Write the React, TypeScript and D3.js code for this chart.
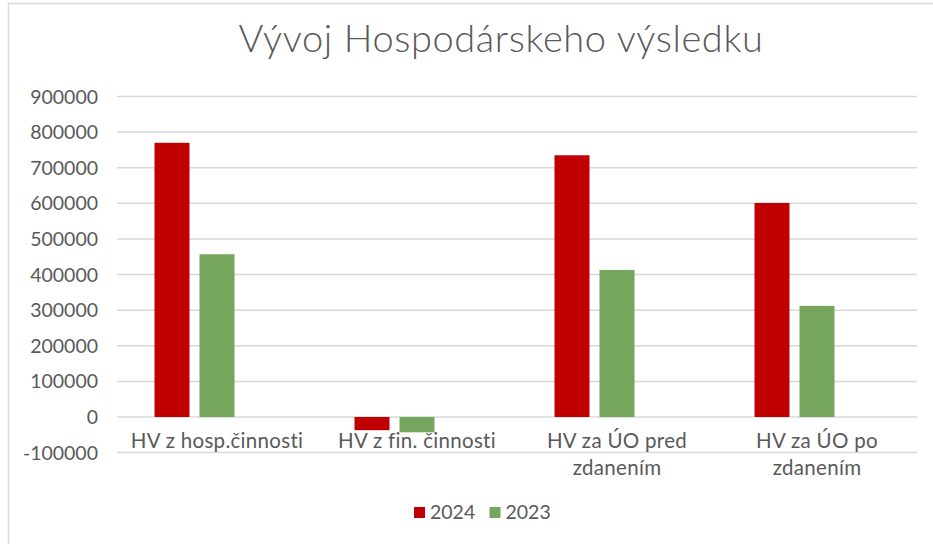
import React from "react";
import * as d3 from "d3";

const CATEGORIES = [["HV z hosp.činnosti"], ["HV z fin. činnosti"], ["HV za ÚO pred", "zdanením"], ["HV za ÚO po", "zdanením"]];
const SERIES = ["2024", "2023"];
const VALUES_2024 = [770000, -37000, 735000, 601000];
const VALUES_2023 = [457000, -43000, 413000, 312000];
const Y_TICKS = [-100000, 0, 100000, 200000, 300000, 400000, 500000, 600000, 700000, 800000, 900000];
const COLORS = ["#C00000", "#76A55E"];
const TITLE = "Vývoj Hospodárskeho výsledku";

const W = 933;
const H = 544;
const FONT = "Lato, 'Noto Sans', sans-serif";
const TEXT = "#595959";

export default function App() {
  const left = 117, right = 917, top = 96.5, zeroY = 417;
  const y = d3.scaleLinear().domain([0, 900000]).range([zeroY, top]);
  const x = d3.scaleBand<number>().domain(d3.range(CATEGORIES.length)).range([left, right]).padding(0);
  const gap = 37.5;
  const inner = d3.scaleBand<string>().domain([...SERIES, "_"]).range([gap, x.bandwidth() - gap]).paddingInner(10 / 45).paddingOuter(0);
  const data = [VALUES_2024, VALUES_2023];

  return (
    <svg width={W} height={H} style={{ position: "absolute", left: 0, top: 0, background: "#fff" }}>
      <rect x={8.5} y={3.5} width={W + 10} height={H + 10} fill="#fff" stroke="#d9d9d9" strokeWidth={1.5} />
      <text x={501} y={52} textAnchor="middle" fontFamily={FONT} fontWeight={300} fontSize={38} letterSpacing={0.6} fill={TEXT}>{TITLE}</text>
      {Y_TICKS.map((t) => (
        <g key={t}>
          <line x1={left} x2={right} y1={y(t)} y2={y(t)} stroke="#d9d9d9" strokeWidth={1.5} />
          <text x={98} y={y(t) + 7} textAnchor="end" fontFamily={FONT} fontSize={19.5} fill={TEXT}>{t}</text>
        </g>
      ))}
      {data.map((vals, si) =>
        vals.map((v, ci) => {
          const bx = (x(ci) as number) + (inner(SERIES[si]) as number);
          const y0 = y(Math.max(0, v));
          const h = Math.abs(y(v) - y(0));
          return <rect key={`${si}-${ci}`} x={bx} y={y0} width={inner.bandwidth()} height={h} fill={COLORS[si]} />;
        })
      )}
      {CATEGORIES.map((lines, ci) => (
        <text key={ci} textAnchor="middle" fontFamily={FONT} fontSize={20.5} letterSpacing={0.3} fill={TEXT}>
          {lines.map((l, li) => (
            <tspan key={li} x={(x(ci) as number) + x.bandwidth() / 2} y={448 + li * 27}>{l}</tspan>
          ))}
        </text>
      ))}
      {SERIES.map((s, si) => (
        <g key={s} transform={`translate(${414 + si * 75.5},0)`}>
          <rect x={0} y={507} width={11} height={11} fill={COLORS[si]} />
          <text x={16} y={519} fontFamily={FONT} fontSize={19.5} fill={TEXT}>{s}</text>
        </g>
      ))}
    </svg>
  );
}
